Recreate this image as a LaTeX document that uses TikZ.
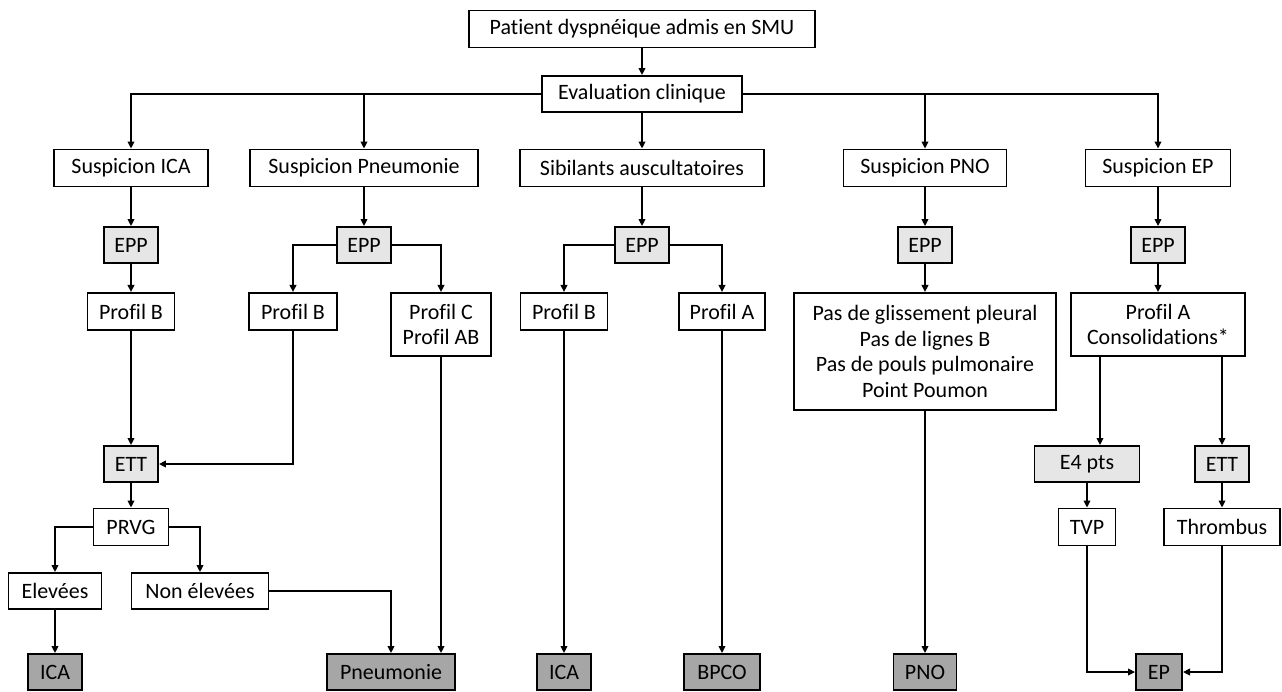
\documentclass[tikz,border=0pt]{standalone}
\usepackage{fontspec}
\setmainfont{Carlito}[Ligatures=NoCommon]
\usetikzlibrary{arrows.meta,positioning}
\definecolor{examgray}{RGB}{231,230,230}
\definecolor{diaggray}{RGB}{166,166,166}

\begin{document}
\begin{tikzpicture}[
    x=0.02cm, y=-0.02cm,
    box/.style={rectangle, draw, line width=1.1pt, inner sep=0pt, align=center, minimum height=0.74cm, font=\fontsize{12.5}{14.6}\selectfont},
    exam/.style={box, fill=examgray, minimum width=1.08cm},
    diag/.style={box, fill=diaggray},
    arrow/.style={-{Triangle[length=4pt,width=3.8pt]}, line width=0.8pt},
    link/.style={line width=0.8pt}
]
\useasboundingbox (0,0) rectangle (1282,691);

% top
\node[box, minimum width=6.92cm] (patient) at (642,29) {Patient dyspnéique admis en SMU};
\node[box, minimum width=4cm, minimum height=0.72cm] (eval) at (642,94) {Evaluation clinique};

% suspicions
\node[box, minimum width=3.08cm] (sica) at (131,168) {Suspicion ICA};
\node[box, minimum width=4.56cm] (spneu) at (364,168) {Suspicion Pneumonie};
\node[box, minimum width=4.88cm] (sib) at (642,168) {Sibilants auscultatoires};
\node[box, minimum width=3.26cm] (spno) at (925,168) {Suspicion PNO};
\node[box, minimum width=2.9cm] (sep) at (1158,168) {Suspicion EP};

% EPP
\node[exam, minimum height=0.72cm] (epp1) at (131,245) {EPP};
\node[exam, minimum height=0.72cm] (epp2) at (364,245) {EPP};
\node[exam, minimum height=0.72cm] (epp3) at (642,245) {EPP};
\node[exam, minimum height=0.72cm] (epp4) at (925,245) {EPP};
\node[exam, minimum height=0.72cm] (epp5) at (1158,245) {EPP};

% profils
\node[box, anchor=north, minimum width=1.74cm] (pb1) at (131,292) {Profil B};
\node[box, anchor=north, minimum width=1.76cm] (pb2) at (293,292) {Profil B};
\node[box, anchor=north, minimum width=2cm, minimum height=1.26cm] (pcab) at (441,292) {Profil C\\Profil AB};
\node[box, anchor=north, minimum width=1.74cm] (pb3) at (564,292) {Profil B};
\node[box, anchor=north, minimum width=1.72cm] (pa3) at (722,292) {Profil A};
\node[box, anchor=north, minimum width=5.24cm, minimum height=2.34cm] (pnosig) at (925,292) {Pas de glissement pleural\\Pas de lignes B\\Pas de pouls pulmonaire\\Point Poumon};
\node[box, anchor=north, minimum width=3.48cm, minimum height=1.26cm] (pacons) at (1158,292) {Profil A\\Consolidations*};

% ETT / E4 pts
\node[exam, minimum height=0.72cm] (ett1) at (131,464) {ETT};
\node[exam, minimum width=2.1cm, minimum height=0.72cm] (e4) at (1087,464) {E4 pts};
\node[exam, minimum height=0.72cm] (ett2) at (1222,464) {ETT};
\coordinate (e4in) at (1100,464);

\node[box, minimum width=1.5cm] (prvg) at (131,527) {PRVG};
\node[box, minimum width=1.14cm] (tvp) at (1087,527) {TVP};
\node[box, minimum width=2.32cm] (thromb) at (1222,527) {Thrombus};

\node[box, minimum width=1.86cm, minimum height=0.72cm] (elev) at (55,591) {Elevées};
\node[box, minimum width=2.74cm, minimum height=0.72cm] (nonelev) at (200,591) {Non élevées};

% diagnostics
\node[diag, minimum width=1.08cm, minimum height=0.72cm] (ica1) at (55,672) {ICA};
\node[diag, minimum width=2.56cm, minimum height=0.72cm] (pneu) at (391,672) {Pneumonie};
\node[diag, minimum width=1.08cm, minimum height=0.72cm] (ica2) at (564,672) {ICA};
\node[diag, minimum width=1.52cm, minimum height=0.72cm] (bpco) at (722,672) {BPCO};
\node[diag, minimum width=1.26cm, minimum height=0.72cm] (pno) at (925,672) {PNO};
\node[diag, minimum width=0.92cm, minimum height=0.72cm] (ep) at (1159,672) {EP};

\draw[arrow] (patient) -- (eval);
\draw[arrow] (eval.west) -| (sica.north);
\draw[arrow] (spneu |- eval.west) -- (spneu.north);
\draw[arrow] (eval) -- (sib);
\draw[arrow] (eval.east) -| (sep.north);
\draw[arrow] (spno |- eval.east) -- (spno.north);

\draw[arrow] (sica) -- (epp1);
\draw[arrow] (spneu) -- (epp2);
\draw[arrow] (sib) -- (epp3);
\draw[arrow] (spno) -- (epp4);
\draw[arrow] (sep) -- (epp5);

\draw[arrow] (epp1) -- (pb1);
\draw[arrow] (epp2.west) -| (pb2.north);
\draw[arrow] (epp2.east) -| (pcab.north);
\draw[arrow] (epp3.west) -| (pb3.north);
\draw[arrow] (epp3.east) -| (pa3.north);
\draw[arrow] (epp4) -- (pnosig);
\draw[arrow] (epp5) -- (pacons);

\draw[arrow] (pb1) -- (ett1);
\draw[arrow] (pb2.south) |- (ett1.east);
\draw[arrow] (ett1) -- (prvg);
\draw[arrow] (prvg.west) -| (elev.north);
\draw[arrow] (prvg.east) -| (nonelev.north);
\draw[arrow] (elev) -- (ica1);
\draw[arrow] (nonelev.east) -| (pneu.north);
\draw[arrow] (pcab.south) -- (pcab.south |- pneu.north);

\draw[arrow] (pb3) -- (ica2);
\draw[arrow] (pa3) -- (bpco);
\draw[arrow] (pnosig) -- (pno);

\draw[arrow] (pacons.south -| e4in) -- (e4in |- e4.north);
\draw[arrow] (pacons.south -| ett2) -- (ett2.north);
\draw[arrow] (e4) -- (tvp);
\draw[arrow] (ett2) -- (thromb);
\draw[arrow] (tvp.south) |- (ep.west);
\draw[arrow] (thromb.south) |- (ep.east);
\end{tikzpicture}
\end{document}
